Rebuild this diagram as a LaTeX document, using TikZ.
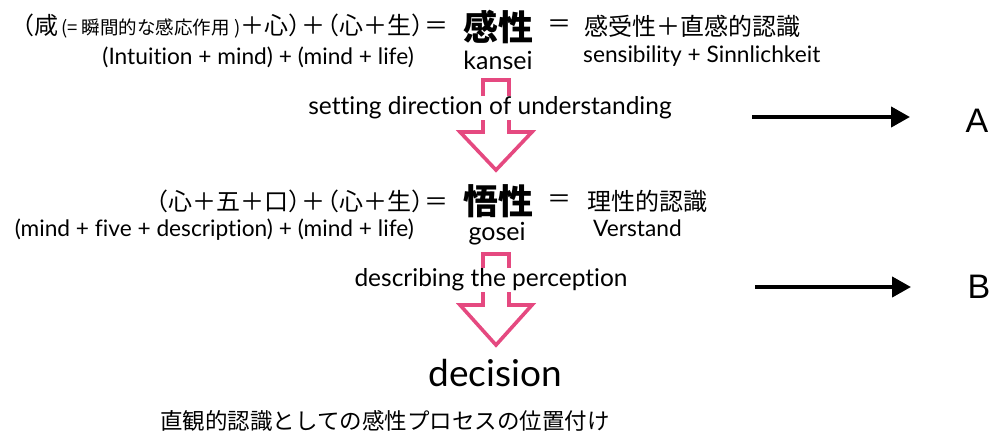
\documentclass[tikz,border=0pt]{standalone}
\usepackage{fontspec}
\setmainfont{Lato}[Ligatures={NoCommon}]
\newfontfamily\jp{Noto Sans CJK JP}
\newfontfamily\lat{Liberation Sans}
\usetikzlibrary{arrows.meta}
\definecolor{pinkA}{RGB}{229,73,128}
\newcommand{\LP}{\hspace{-10.5pt}（}
\newcommand{\RP}{）\hspace{-10.5pt}}
\tikzset{
  txt/.style={inner sep=0pt, anchor=center},
  en/.style={txt, font=\fontsize{22.7}{26}\selectfont},
  ja/.style={txt, font=\jp\fontsize{24}{28}\selectfont},
  big/.style={txt, font=\jp\bfseries\fontsize{35}{40}\selectfont},
  rom/.style={txt, font=\fontsize{25}{28}\selectfont},
  mid/.style={txt, fill=white, inner xsep=2pt, inner ysep=1pt, font=\fontsize{24.5}{28}\selectfont},
  blockarrow/.style={draw=pinkA, line width=3.6pt, miter limit=10},
  sidearrow/.style={line width=4.2pt, -{Triangle[length=19pt,width=20pt]}},
  letter/.style={txt, font=\lat\fontsize{34}{38}\selectfont}
}
\begin{document}
\begin{tikzpicture}[x=1pt,y=-1pt]
\useasboundingbox (0,0) rectangle (992,434);
% block arrows
\draw[blockarrow] (483,80) -- (509,80) -- (509,132) -- (532,132) -- (496,170) -- (460,132) -- (483,132) -- cycle;
\draw[blockarrow] (483,254) -- (509,254) -- (509,305) -- (532,305) -- (496,345) -- (460,305) -- (483,305) -- cycle;
% row 1
\node[ja, anchor=east] (j1) at (449,26) {\LP 咸\hspace{3pt}{\fontsize{18.5}{20}\selectfont (= 瞬間的な感応作用 )}＋心\RP＋\LP 心＋生\RP＝};
\node[big] (kansei) at (498,27) {感性};
\node[ja] (eq1) at (559,26) {＝};
\node[ja, anchor=west] (k1) at (584,26) {感受性＋直感的認識};
\node[en, anchor=east] (e1) at (414,57) {(Intuition + mind) + (mind + life)};
\node[rom] (kr) at (498,60) {kansei};
\node[en, anchor=west] (s1) at (583,56) {sensibility + Sinnlichkeit};
% middle label 1
\node[mid] (m1) at (490,108) {setting direction of understanding};
% row 2
\node[ja, anchor=east] (j2) at (449,201) {\LP 心＋五＋口\RP＋\LP 心＋生\RP＝};
\node[big] (gosei) at (498,201) {悟性};
\node[ja] (eq2) at (559,201) {＝};
\node[ja, anchor=west] (r2) at (587,201) {理性的認識};
\node[en, anchor=east] (e2) at (414,230) {(mind + five + description) + (mind + life)};
\node[rom] (gr) at (497,234) {gosei};
\node[en, anchor=west] (v2) at (593,228) {Verstand};
% middle label 2
\node[mid] (m2) at (491,280) {describing the perception};
% decision
\node[txt, font=\fontsize{37}{42}\selectfont] (dec) at (495,373) {decision};
\node[txt, font=\jp\fontsize{22.5}{26}\selectfont] (cap) at (385,421) {直観的認識としての感性プロセスの位置付け};
% side arrows
\node[letter] (A) at (977,121) {A};
\node[letter] (B) at (979,287) {B};
\coordinate (aS) at (752,117);
\coordinate (aE) at (910,117);
\coordinate (bS) at (755,287);
\coordinate (bE) at (911,287);
\draw[sidearrow] (aS) -- (aE);
\draw[sidearrow] (bS) -- (bE);
\end{tikzpicture}
\end{document}
